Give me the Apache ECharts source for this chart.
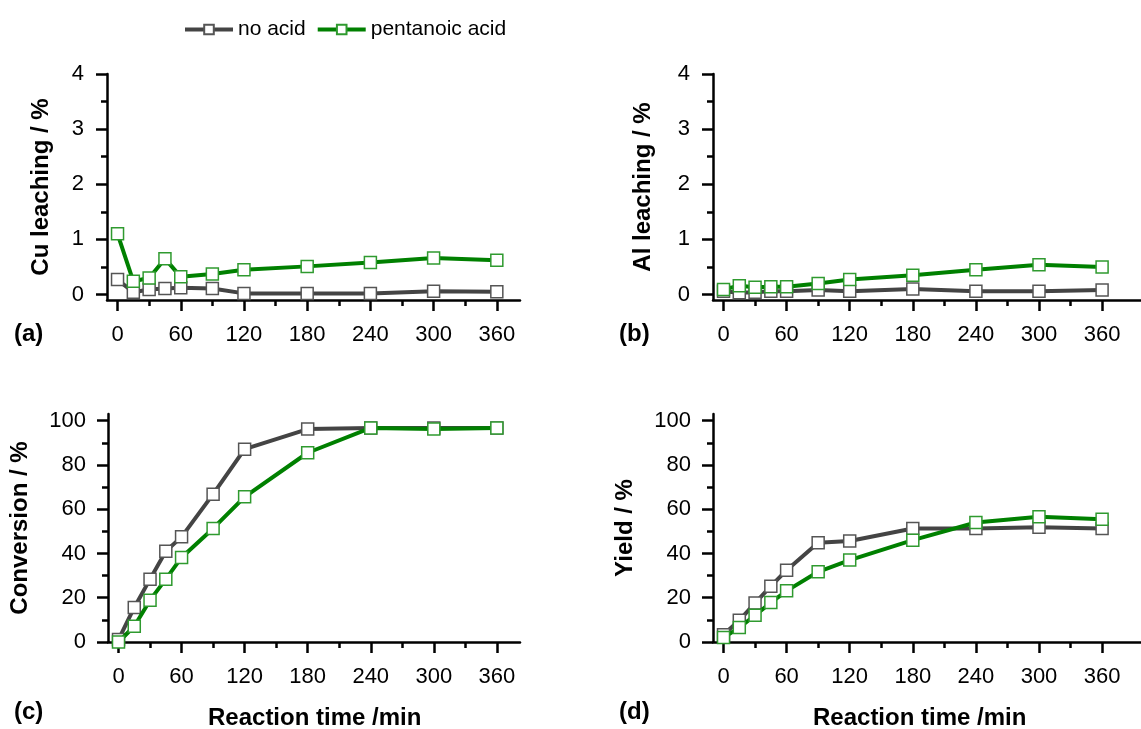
<!DOCTYPE html>
<html>
<head>
<meta charset="utf-8">
<script src="https://cdn.jsdelivr.net/npm/echarts@6/dist/echarts.min.js"></script>
<style>
  html, body { margin: 0; padding: 0; background: #fff; }
  #chart { width: 1141px; height: 729px; }
</style>
</head>
<body>
<div id="chart"></div>
<script>
// reaction times (min)
var times = [0, 15, 30, 45, 60, 90, 120, 180, 240, 300, 360];
var timeLabels = [0, 60, 120, 180, 240, 300, 360];
var timeMinor = [30, 90, 150, 210, 270, 330];

// (a) Cu leaching / %
var cuNoAcid = [0.27, 0.04, 0.09, 0.11, 0.12, 0.11, 0.02, 0.02, 0.02, 0.06, 0.05];
var cuPentanoic = [1.10, 0.24, 0.30, 0.65, 0.32, 0.37, 0.45, 0.51, 0.58, 0.66, 0.62];
// (b) Al leaching / %
var alNoAcid = [0.06, 0.03, 0.04, 0.06, 0.06, 0.08, 0.06, 0.10, 0.06, 0.06, 0.08];
var alPentanoic = [0.09, 0.16, 0.13, 0.14, 0.14, 0.20, 0.27, 0.35, 0.45, 0.54, 0.50];
// (c) Conversion / %
var convNoAcid = [1.1, 15.6, 28.4, 41.0, 47.5, 66.8, 87.1, 96.2, 96.7, 96.7, 96.7];
var convPentanoic = [0, 7.1, 18.9, 28.4, 38.2, 51.3, 65.6, 85.5, 96.7, 96.2, 96.7];
// (d) Yield / %
var yieldNoAcid = [3.3, 9.8, 17.6, 25.2, 32.4, 44.8, 45.6, 51.3, 51.3, 51.8, 51.3];
var yieldPentanoic = [2.0, 6.5, 12.1, 17.8, 23.1, 31.7, 37.0, 46.0, 54.0, 56.6, 55.5];

var leachLabels = [0, 1, 2, 3, 4];
var leachMinor = [0.5, 1.5, 2.5, 3.5];
var pctLabels = [0, 20, 40, 60, 80, 100];
var pctMinor = [10, 30, 50, 70, 90];

var FONT = 'Liberation Sans';
var BOLD = 'bold 24px "Liberation Sans"';
var panels = [
  { grid: { left: 107, top: 74, width: 413, height: 226 }, xmax: 382, ymin: -0.1, ymax: 4, ym: 23,
    yLabels: leachLabels, yMinor: leachMinor, name: 'Cu leaching / %', gap: 54, a: cuNoAcid, b: cuPentanoic },
  { grid: { left: 713, top: 74, width: 428, height: 226 }, xmax: 397, ymin: -0.1, ymax: 4, ym: 23,
    yLabels: leachLabels, yMinor: leachMinor, name: 'Al leaching / %', gap: 58, a: alNoAcid, b: alPentanoic },
  { grid: { left: 108, top: 414, width: 412, height: 228 }, xmax: 382, ymin: 0, ymax: 103, ym: 22,
    yLabels: pctLabels, yMinor: pctMinor, name: 'Conversion / %', gap: 76, a: convNoAcid, b: convPentanoic },
  { grid: { left: 713, top: 414, width: 428, height: 228 }, xmax: 397, ymin: 0, ymax: 103, ym: 22,
    yLabels: pctLabels, yMinor: pctMinor, name: 'Yield / %', gap: 76, a: yieldNoAcid, b: yieldPentanoic }
];

function pairs(ys) {
  return times.map(function (t, i) { return [t, ys[i]]; });
}

var grids = [], xAxes = [], yAxes = [], series = [];
panels.forEach(function (p, k) {
  grids.push(p.grid);
  // main x axis with labels
  xAxes.push({
    type: 'value', gridIndex: k, min: -10, max: p.xmax, position: 'bottom',
    axisLine: { show: true, onZero: false, lineStyle: { color: '#000', width: 2.5 } },
    axisTick: { show: true, length: 11, customValues: timeLabels, lineStyle: { color: '#000', width: 2.5 } },
    axisLabel: { customValues: timeLabels, margin: 24, fontFamily: FONT, fontSize: 22, color: '#000' },
    splitLine: { show: false }
  });
  // minor x ticks
  xAxes.push({
    type: 'value', gridIndex: k, min: -10, max: p.xmax, position: 'bottom',
    axisLine: { show: false, onZero: false },
    axisTick: { show: true, length: 6, customValues: timeMinor, lineStyle: { color: '#000', width: 2.5 } },
    axisLabel: { show: false },
    splitLine: { show: false }
  });
  yAxes.push({
    type: 'value', gridIndex: k, min: p.ymin, max: p.ymax, position: 'left',
    name: p.name, nameLocation: 'middle', nameGap: p.gap, nameRotate: 90,
    nameTextStyle: { fontFamily: FONT, fontSize: 24, fontWeight: 'bold', color: '#000' },
    axisLine: { show: true, onZero: false, lineStyle: { color: '#000', width: 2.5 } },
    axisTick: { show: true, length: 11, customValues: p.yLabels, lineStyle: { color: '#000', width: 2.5 } },
    axisLabel: { customValues: p.yLabels, margin: p.ym, fontFamily: FONT, fontSize: 22, color: '#000' },
    splitLine: { show: false }
  });
  // minor y ticks
  yAxes.push({
    type: 'value', gridIndex: k, min: p.ymin, max: p.ymax, position: 'left',
    axisLine: { show: false, onZero: false },
    axisTick: { show: true, length: 6, customValues: p.yMinor, lineStyle: { color: '#000', width: 2.5 } },
    axisLabel: { show: false },
    splitLine: { show: false }
  });
  series.push({
    name: 'no acid', type: 'line', xAxisIndex: 2 * k, yAxisIndex: 2 * k,
    data: pairs(p.a), symbol: 'rect', symbolSize: 12,
    lineStyle: { color: '#444444', width: 4 },
    itemStyle: { color: '#ffffff', borderColor: '#555555', borderWidth: 1.5 },
    emphasis: { disabled: true }, z: 2
  });
  series.push({
    name: 'pentanoic acid', type: 'line', xAxisIndex: 2 * k, yAxisIndex: 2 * k,
    data: pairs(p.b), symbol: 'rect', symbolSize: 12,
    lineStyle: { color: '#008000', width: 4 },
    itemStyle: { color: '#ffffff', borderColor: '#2f9a2f', borderWidth: 1.5 },
    emphasis: { disabled: true }, z: 3
  });
});

var chart = echarts.init(document.getElementById('chart'), null, { renderer: 'canvas' });
chart.setOption({
  animation: false,
  backgroundColor: '#fff',
  legend: {
    left: 178, top: 14, itemWidth: 48, itemHeight: 12, itemGap: 10,
    data: ['no acid', 'pentanoic acid'],
    lineStyle: { width: 4 },
    textStyle: { fontFamily: FONT, fontSize: 21, color: '#000' }
  },
  grid: grids,
  xAxis: xAxes,
  yAxis: yAxes,
  series: series,
  graphic: [
    { type: 'text', left: 14, top: 322, style: { text: '(a)', font: BOLD, fill: '#000' } },
    { type: 'text', left: 619, top: 322, style: { text: '(b)', font: BOLD, fill: '#000' } },
    { type: 'text', left: 14, top: 700, style: { text: '(c)', font: BOLD, fill: '#000' } },
    { type: 'text', left: 619, top: 700, style: { text: '(d)', font: BOLD, fill: '#000' } },
    { type: 'text', left: 208, top: 706, style: { text: 'Reaction time /min', font: BOLD, fill: '#000' } },
    { type: 'text', left: 813, top: 706, style: { text: 'Reaction time /min', font: BOLD, fill: '#000' } }
  ]
});
</script>
</body>
</html>
